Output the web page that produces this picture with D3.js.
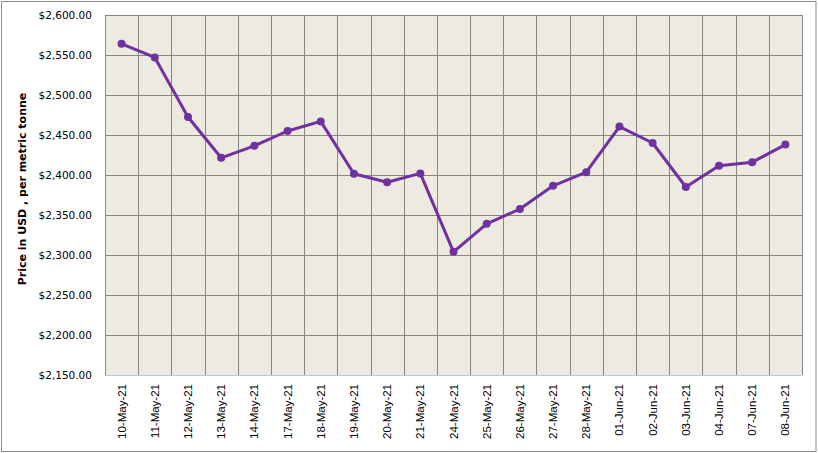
<!DOCTYPE html>
<html>
  <head>
    <meta charset="utf-8">
    <script src="https://d3js.org/d3.v7.min.js"></script>
    <style>
      body { margin: 0; background: #fff; }
    </style>
  </head>
  <body>
    <div class="visual"></div>
    <script>
      // category labels (x axis)
      let dates = ['10-May-21', '11-May-21', '12-May-21', '13-May-21', '14-May-21',
                   '17-May-21', '18-May-21', '19-May-21', '20-May-21', '21-May-21',
                   '24-May-21', '25-May-21', '26-May-21', '27-May-21', '28-May-21',
                   '01-Jun-21', '02-Jun-21', '03-Jun-21', '04-Jun-21', '07-Jun-21', '08-Jun-21'];

      // price in USD per metric tonne
      let prices = [2564, 2547, 2472.5, 2421.5, 2436.5,
                    2455, 2467, 2401.5, 2391, 2402,
                    2304, 2339, 2357.5, 2386.5, 2403.5,
                    2460.5, 2440, 2385, 2411.5, 2416, 2438];

      // y axis ticks
      let yTicks = [2150, 2200, 2250, 2300, 2350, 2400, 2450, 2500, 2550, 2600];

      let width = 818;
      let height = 453;
      let margin = {top: 15, right: 16, bottom: 78, left: 105};

      let svg = d3.select('.visual').append('svg')
        .attr('width', width)
        .attr('height', height);

      svg.append('rect')
        .attr('x', 1.5).attr('y', 1.5)
        .attr('width', width - 3.5).attr('height', height - 3)
        .attr('fill', '#fff')
        .attr('stroke', '#8c8c8c')
        .attr('stroke-width', 1);

      let x = d3.scaleBand()
        .domain(dates)
        .range([margin.left, width - margin.right]);

      let y = d3.scaleLinear()
        .domain([2150, 2600])
        .range([height - margin.bottom, margin.top]);

      // plot area
      svg.append('rect')
        .attr('x', margin.left)
        .attr('y', margin.top)
        .attr('width', width - margin.left - margin.right)
        .attr('height', height - margin.top - margin.bottom)
        .attr('fill', '#edeae0');

      // horizontal grid
      svg.append('g')
        .selectAll('line')
        .data(yTicks.slice(1))
        .enter().append('line')
        .attr('x1', margin.left)
        .attr('x2', width - margin.right)
        .attr('y1', d => Math.round(y(d)) + 0.5)
        .attr('y2', d => Math.round(y(d)) + 0.5)
        .attr('stroke', '#868686');

      // vertical grid at category boundaries
      svg.append('g')
        .selectAll('line')
        .data(dates.concat(['end']))
        .enter().append('line')
        .attr('x1', (d, i) => Math.round(margin.left + i * x.bandwidth()) + 0.5)
        .attr('x2', (d, i) => Math.round(margin.left + i * x.bandwidth()) + 0.5)
        .attr('y1', margin.top)
        .attr('y2', height - margin.bottom)
        .attr('stroke', '#868686');

      // bottom axis line
      svg.append('line')
        .attr('x1', margin.left)
        .attr('x2', width - margin.right)
        .attr('y1', Math.round(y(2150)) + 0.5)
        .attr('y2', Math.round(y(2150)) + 0.5)
        .attr('stroke', '#b7c9e2');

      // y axis labels
      let fmt = d3.format('$,.2f');
      let yAxis = d3.axisLeft(y)
        .tickValues(yTicks)
        .tickFormat(fmt)
        .tickSize(0)
        .tickPadding(13);

      svg.append('g')
        .attr('transform', 'translate(' + margin.left + ',0)')
        .call(yAxis)
        .call(g => g.select('.domain').remove())
        .selectAll('text')
        .attr('font-family', 'DejaVu Sans, Verdana, sans-serif')
        .attr('font-size', 10.5)
        .attr('fill', '#000');

      // x axis labels
      let xAxis = d3.axisBottom(x)
        .tickSize(0)
        .tickPadding(0);

      svg.append('g')
        .attr('transform', 'translate(0,' + (height - margin.bottom) + ')')
        .call(xAxis)
        .call(g => g.select('.domain').remove())
        .selectAll('text')
        .attr('font-family', 'Liberation Sans, Arial, sans-serif')
        .attr('font-size', 11.5)
        .attr('fill', '#000')
        .attr('text-anchor', 'end')
        .attr('transform', 'rotate(-90)')
        .attr('x', -9)
        .attr('y', 0)
        .attr('dy', '0.35em');

      // y axis title
      svg.append('text')
        .attr('transform', 'translate(26,' + (margin.top + (height - margin.top - margin.bottom) / 2 - 6) + ') rotate(-90)')
        .attr('text-anchor', 'middle')
        .attr('font-family', 'DejaVu Sans, Verdana, sans-serif')
        .attr('font-weight', 'bold')
        .attr('font-size', 11)
        .text('Price in USD , per metric tonne');

      // line
      let line = d3.line()
        .x((d, i) => x(dates[i]) + x.bandwidth() / 2)
        .y(d => y(d));

      svg.append('path')
        .datum(prices)
        .attr('d', line)
        .attr('fill', 'none')
        .attr('stroke', '#7030a0')
        .attr('stroke-width', 3)
        .attr('stroke-linejoin', 'round');

      svg.append('g')
        .selectAll('circle')
        .data(prices)
        .enter().append('circle')
        .attr('cx', (d, i) => x(dates[i]) + x.bandwidth() / 2)
        .attr('cy', d => y(d))
        .attr('r', 4)
        .attr('fill', '#7030a0');
    </script>
  </body>
</html>
